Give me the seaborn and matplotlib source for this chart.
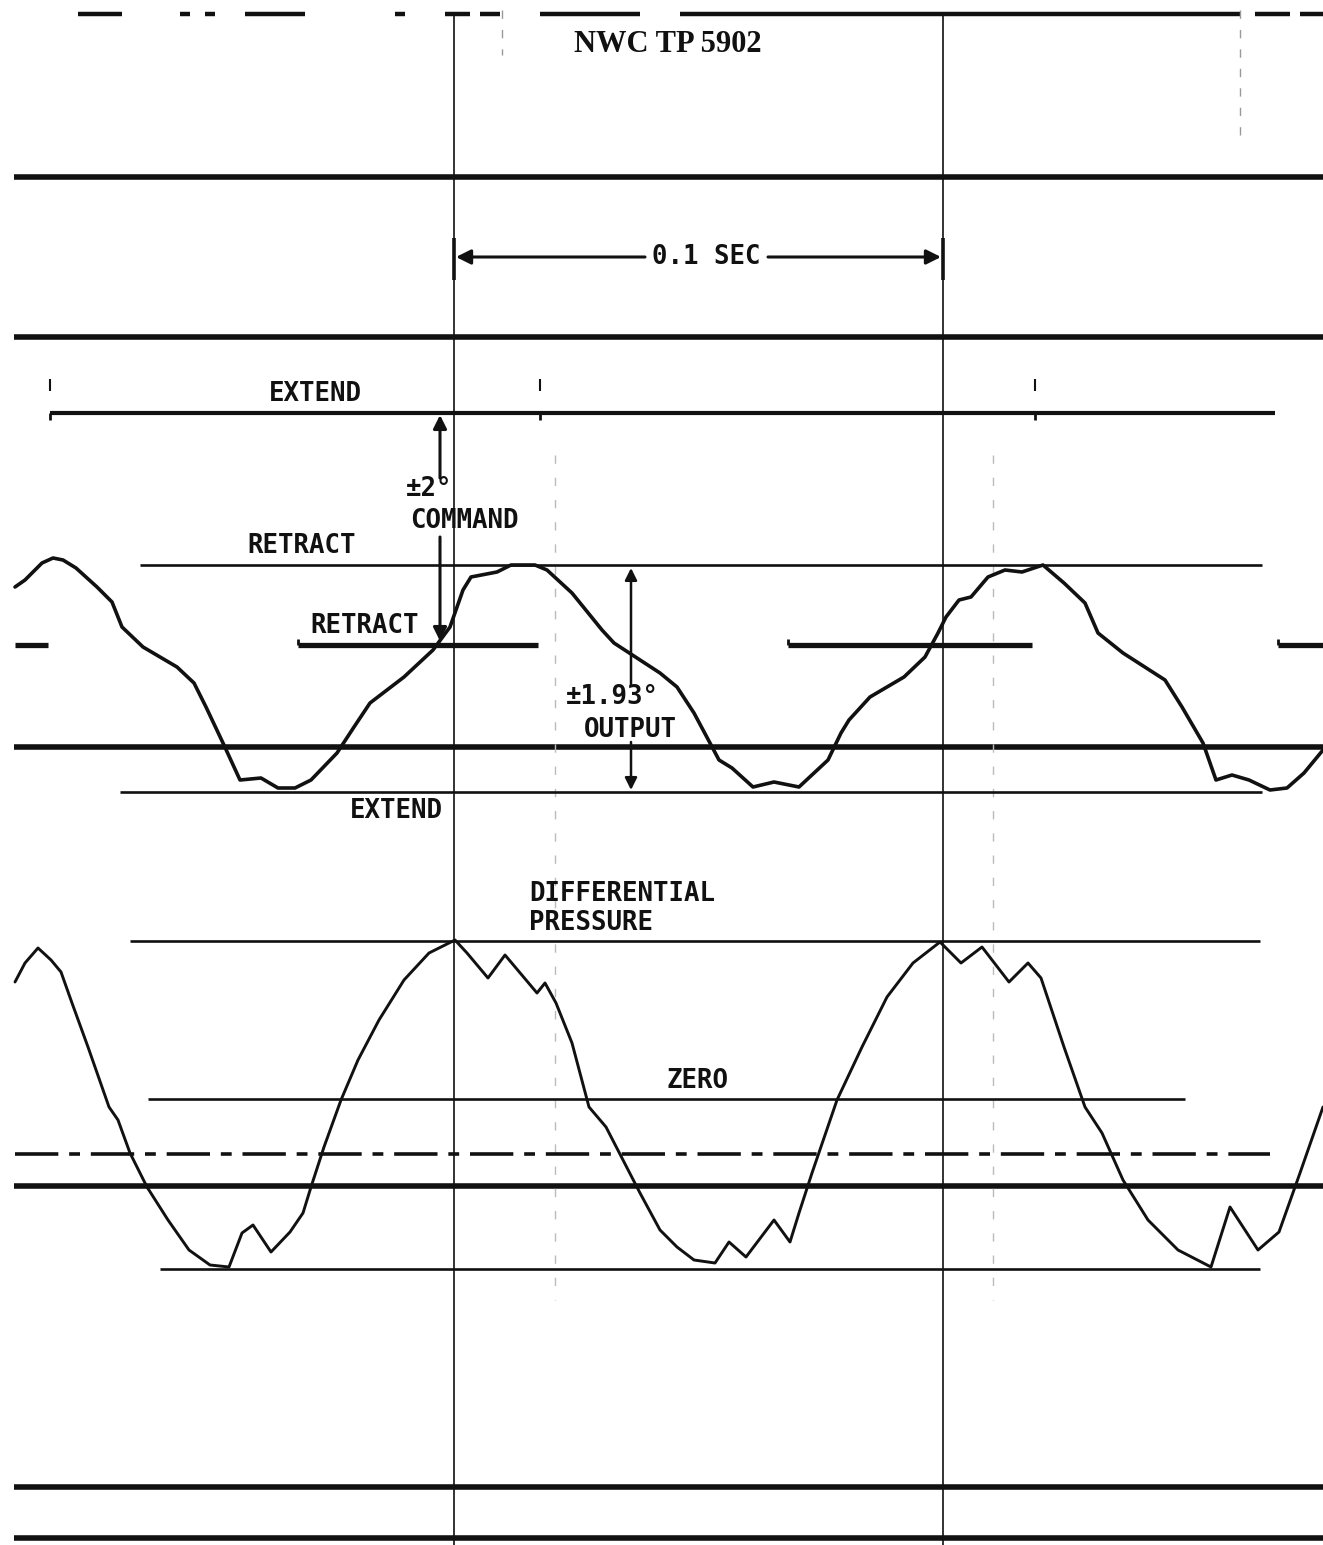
import matplotlib
matplotlib.use("Agg")
import matplotlib.pyplot as plt
import seaborn as sns
import pandas as pd

# ---------------------------------------------------------------------------
# Oscillograph record: servo command, output position and differential
# pressure.  Coordinates are in record units (time runs left to right,
# 489 units = 0.1 s; trace deflection measured downward on the paper).
# ---------------------------------------------------------------------------

# Timing marks (0.1 s apart)
timing_marks = [454, 943]

# Command square wave: extend level and retract level segments
cmd_extend_level = 413
cmd_extend_spans = [(50, 1275)]
cmd_extend_ticks = [50, 540, 1035]
cmd_retract_level = 645
cmd_retract_spans = [(15, 48), (298, 538), (788, 1032), (1278, 1323)]

# Output (actuator position) trace
out_t = [15, 25, 42, 53, 63, 76, 97, 112, 122, 143, 177, 194, 206, 223, 240,
         261, 278, 295, 311, 337, 354, 370, 404, 433, 450, 463, 471, 497, 511,
         535, 547, 572, 602, 614, 660, 677, 694, 710, 719, 732, 753, 774, 799,
         828, 841, 849, 870, 904, 925, 938, 946, 959, 971, 988, 1005, 1022,
         1043, 1064, 1085, 1098, 1123, 1165, 1182, 1203, 1216, 1232, 1249,
         1270, 1287, 1304, 1323]
out_v = [587, 580, 563, 558, 560, 568, 587, 602, 627, 647, 667, 683, 707, 743,
         780, 778, 788, 788, 780, 753, 727, 703, 677, 650, 627, 590, 577, 572,
         565, 565, 570, 593, 630, 643, 673, 687, 713, 743, 760, 768, 787, 782,
         787, 760, 733, 720, 697, 677, 657, 633, 617, 600, 597, 577, 570, 572,
         565, 583, 603, 633, 653, 680, 707, 743, 780, 775, 780, 790, 788, 773,
         750]

# Differential pressure trace
dp_t = [15, 25, 38, 51, 61, 72, 88, 109, 118, 130, 147, 168, 189, 210, 229,
        242, 253, 271, 290, 303, 311, 324, 341, 358, 379, 404, 429, 455, 467,
        488, 505, 537, 545, 556, 572, 589, 606, 623, 640, 660, 677, 694, 715,
        729, 746, 774, 790, 799, 812, 837, 862, 887, 913, 940, 961, 982, 1009,
        1028, 1041, 1064, 1085, 1102, 1123, 1148, 1178, 1211, 1230, 1258,
        1279, 1300, 1323]
dp_v = [982, 963, 948, 960, 972, 1003, 1047, 1107, 1120, 1153, 1187, 1220,
        1250, 1265, 1267, 1233, 1225, 1252, 1232, 1213, 1187, 1147, 1100, 1060,
        1020, 980, 953, 940, 953, 978, 955, 993, 983, 1003, 1043, 1107, 1127,
        1160, 1193, 1230, 1247, 1260, 1263, 1242, 1257, 1220, 1242, 1213, 1173,
        1100, 1047, 997, 963, 942, 963, 947, 982, 963, 978, 1047, 1107, 1133,
        1180, 1220, 1250, 1267, 1207, 1250, 1232, 1173, 1107]

# Reference lines: (level, start, end)
out_rules = [(565, 140, 1262), (792, 120, 1262)]
dp_rules = [(941, 130, 1260), (1099, 148, 1185), (1269, 160, 1260)]
galvo_baselines = [177, 337, 747, 1186, 1487, 1538]
dp_dashed_level = 1154

# Broken edge rule along the top of the sheet
top_edge_spans = [(78, 122), (180, 190), (205, 215), (245, 305), (395, 405),
                  (445, 470), (480, 500), (540, 640), (680, 1240),
                  (1255, 1290), (1300, 1323)]

sns.set_theme(style="white")
plt.rcParams["font.family"] = ["DejaVu Sans Mono", "DejaVu Sans"]

fig = plt.figure(figsize=(13.23, 15.45), dpi=100)
ax = fig.add_axes([0, 0, 1, 1])
ax.set_xlim(0, 1323)
ax.set_ylim(1545, 0)
ax.axis("off")

ink = "#111111"

# Top broken edge
for a, b in top_edge_spans:
    ax.plot([a, b], [14, 14], color=ink, lw=3.2, solid_capstyle="butt")

# Galvanometer baselines (heavy)
ax.hlines(galvo_baselines, 14, 1323, color=ink, lw=4.0)

# Timing lines
ax.vlines(timing_marks, 12, 1545, color=ink, lw=1.2)

# Faint scan streaks
ax.vlines([555, 993], [455, 455], [1300, 1300], color="#bbbbbb", lw=1.0,
          linestyles=(0, (6, 10)))
ax.vlines([502, 1240], [10, 10], [55, 140], color="#999999", lw=1.0,
          linestyles=(0, (6, 8)))

# 0.1 SEC span marker
ax.vlines(timing_marks, 238, 280, color=ink, lw=2.6)
ax.annotate("", xy=(456, 257), xytext=(645, 257),
            arrowprops=dict(arrowstyle="-|>", color=ink, lw=2.2,
                            mutation_scale=22, shrinkA=0, shrinkB=0))
ax.annotate("", xy=(941, 257), xytext=(768, 257),
            arrowprops=dict(arrowstyle="-|>", color=ink, lw=2.2,
                            mutation_scale=22, shrinkA=0, shrinkB=0))
ax.text(706, 257, "0.1 SEC", ha="center", va="center", fontsize=18.5,
        fontweight="bold", color=ink)

# Command trace
for a, b in cmd_extend_spans:
    ax.hlines(cmd_extend_level, a, b, color=ink, lw=3.0)
ax.vlines(cmd_extend_ticks, 379, 391, color=ink, lw=1.5)
ax.vlines(cmd_extend_ticks, 413, 420, color=ink, lw=2.0)
for a, b in cmd_retract_spans:
    ax.hlines(cmd_retract_level, a, b, color=ink, lw=3.8)
ax.vlines([298, 788, 1278], 639, 645, color=ink, lw=2.0)

# Output trace
out_df = pd.DataFrame({"t": out_t, "v": out_v})
sns.lineplot(data=out_df, x="t", y="v", sort=False, estimator=None,
             color=ink, lw=2.6, ax=ax, legend=False)
for lvl, a, b in out_rules:
    ax.hlines(lvl, a, b, color=ink, lw=1.9)

# Differential pressure trace
dp_df = pd.DataFrame({"t": dp_t, "v": dp_v})
sns.lineplot(data=dp_df, x="t", y="v", sort=False, estimator=None,
             color=ink, lw=2.1, ax=ax, legend=False)
for lvl, a, b in dp_rules:
    ax.hlines(lvl, a, b, color=ink, lw=1.9)
ax.hlines(dp_dashed_level, 15, 1270, color=ink, lw=2.6,
          linestyles=(0, (12, 3, 3, 3)))

# Command amplitude arrows
ax.annotate("", xy=(440, 415), xytext=(440, 478),
            arrowprops=dict(arrowstyle="-|>", color=ink, lw=2.2,
                            mutation_scale=20, shrinkA=0, shrinkB=0))
ax.annotate("", xy=(440, 641), xytext=(440, 537),
            arrowprops=dict(arrowstyle="-|>", color=ink, lw=2.2,
                            mutation_scale=20, shrinkA=0, shrinkB=0))

# Output amplitude arrows
ax.annotate("", xy=(631, 568), xytext=(631, 684),
            arrowprops=dict(arrowstyle="-|>", color=ink, lw=1.8,
                            mutation_scale=18, shrinkA=0, shrinkB=0))
ax.annotate("", xy=(631, 790), xytext=(631, 742),
            arrowprops=dict(arrowstyle="-|>", color=ink, lw=1.8,
                            mutation_scale=18, shrinkA=0, shrinkB=0))

# Labels
lab = dict(fontsize=18.5, fontweight="bold", color=ink, va="center")
ax.text(668, 45, "NWC TP 5902", ha="center", va="center", fontsize=22,
        family=["Liberation Serif", "DejaVu Serif"], fontweight="bold",
        color=ink)
ax.text(315, 394, "EXTEND", ha="center", **lab)
ax.text(406, 489, "±2°", ha="left", **lab)
ax.text(464, 521, "COMMAND", ha="center", **lab)
ax.text(302, 546, "RETRACT", ha="center", **lab)
ax.text(365, 626, "RETRACT", ha="center", **lab)
ax.text(612, 697, "±1.93°", ha="center", **lab)
ax.text(630, 730, "OUTPUT", ha="center", **lab)
ax.text(396, 811, "EXTEND", ha="center", **lab)
ax.text(529, 894, "DIFFERENTIAL", ha="left", **lab)
ax.text(529, 923, "PRESSURE", ha="left", **lab)
ax.text(698, 1081, "ZERO", ha="center", **lab)

fig.savefig("out.png", dpi=100, facecolor="white")
